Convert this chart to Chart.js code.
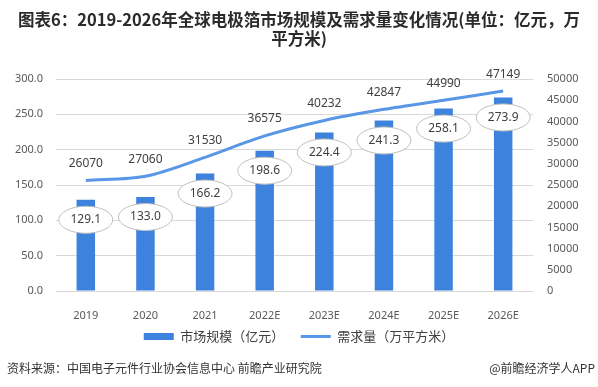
<!DOCTYPE html>
<html><head><meta charset="utf-8">
<script src="https://cdn.jsdelivr.net/npm/chart.js@4/dist/chart.umd.min.js"></script>
<style>
body{margin:0;width:598px;height:387px;overflow:hidden;background:#fff;position:relative;font-family:"Noto Sans CJK SC",sans-serif;}
#title{position:absolute;left:0;top:10px;width:598px;text-align:center;font-weight:bold;font-size:16.5px;line-height:19px;color:#2b2b2b;white-space:nowrap;}
#c{position:absolute;left:0;top:0;}
.foot{position:absolute;top:360px;font-size:12px;color:#333;line-height:16px;white-space:nowrap;}
</style></head>
<body>
<canvas id="c" width="598" height="387"></canvas>
<div id="title">图表6：2019-2026年全球电极箔市场规模及需求量变化情况(单位：亿元，万<br>平方米)</div>
<div class="foot" style="left:7px">资料来源：中国电子元件行业协会信息中心 前瞻产业研究院</div>
<div class="foot" style="right:3px">@前瞻经济学人APP</div>
<script>
const categories = ['2019','2020','2021','2022E','2023E','2024E','2025E','2026E'];
const marketSize = [129.1,133.0,166.2,198.6,224.4,241.3,258.1,273.9];
const demand = [26070,27060,31530,36575,40232,42847,44990,47149];
const leftTicks = [0,50,100,150,200,250,300];
const rightTicks = [0,5000,10000,15000,20000,25000,30000,35000,40000,45000,50000];

const barColor = '#3D82DC';
const lineColor = '#5A96E6';
const tickFont = {family:'"Noto Sans", sans-serif', size:11};

const labelPlugin = {
  id:'labels',
  afterDatasetsDraw(chart){
    const ctx = chart.ctx;
    ctx.save();
    ctx.textAlign='center'; ctx.textBaseline='middle';
    ctx.font = '12px "Noto Sans", sans-serif';
    const bm = chart.getDatasetMeta(0);
    bm.data.forEach((el,i)=>{
      const cx = el.x, cy = el.y + 20;
      ctx.beginPath();
      ctx.ellipse(cx, cy, 27, 13.5, 0, 0, Math.PI*2);
      ctx.fillStyle='#fff'; ctx.fill();
      ctx.lineWidth=1; ctx.strokeStyle='#bfbfbf'; ctx.stroke();
      ctx.fillStyle='#404040';
      ctx.fillText(marketSize[i].toFixed(1), cx, cy);
    });
    const lm = chart.getDatasetMeta(1);
    lm.data.forEach((el,i)=>{
      ctx.fillStyle='#404040';
      ctx.fillText(String(demand[i]), el.x, el.y - 17);
    });
    ctx.restore();
  }
};

new Chart(document.getElementById('c'), {
  data:{
    labels:categories,
    datasets:[
      {type:'bar', label:'市场规模（亿元）', data:marketSize, backgroundColor:barColor, yAxisID:'y', barPercentage:0.31, categoryPercentage:1, order:2},
      {type:'line', label:'需求量（万平方米）', data:demand, borderColor:lineColor, backgroundColor:lineColor, borderWidth:3, pointRadius:0, tension:0.3, yAxisID:'y1', order:1}
    ]
  },
  options:{
    responsive:false, animation:false, devicePixelRatio:1,
    layout:{padding:{top:79,bottom:34,left:0,right:0}},
    plugins:{
      title:{display:false}, tooltip:{enabled:false},
      legend:{position:'bottom', labels:{
        font:{family:'"Noto Sans CJK SC", sans-serif', size:13}, color:'#404040',
        usePointStyle:true, pointStyleWidth:30, boxHeight:7, padding:10,
        generateLabels(chart){
          return [
            {text:'市场规模（亿元）\u3000', fillStyle:barColor, strokeStyle:barColor, lineWidth:0, pointStyle:'rect', datasetIndex:0, fontColor:'#404040'},
            {text:'需求量（万平方米）', fillStyle:lineColor, strokeStyle:lineColor, lineWidth:3, pointStyle:'line', datasetIndex:1, fontColor:'#404040'}
          ];
        }
      }}
    },
    scales:{
      x:{grid:{display:false}, border:{display:false}, ticks:{font:tickFont, color:'#595959', padding:10, maxRotation:0},
         afterFit(s){s.height=29;}},
      y:{position:'left', min:0, max:300, border:{display:false},
         grid:{color:'#d9d9d9', drawTicks:false},
         afterBuildTicks(s){s.ticks = leftTicks.map(v=>({value:v}));},
         ticks:{font:tickFont, color:'#595959', padding:13, callback:v=>v.toFixed(1)},
         afterFit(s){s.width=56;}},
      y1:{position:'right', min:0, max:50000, border:{display:false},
         grid:{display:false, drawTicks:false},
         afterBuildTicks(s){s.ticks = rightTicks.map(v=>({value:v}));},
         ticks:{font:tickFont, color:'#595959', padding:14, callback:v=>String(v)},
         afterFit(s){s.width=65;}}
    }
  },
  plugins:[labelPlugin]
});
</script>
</body></html>
